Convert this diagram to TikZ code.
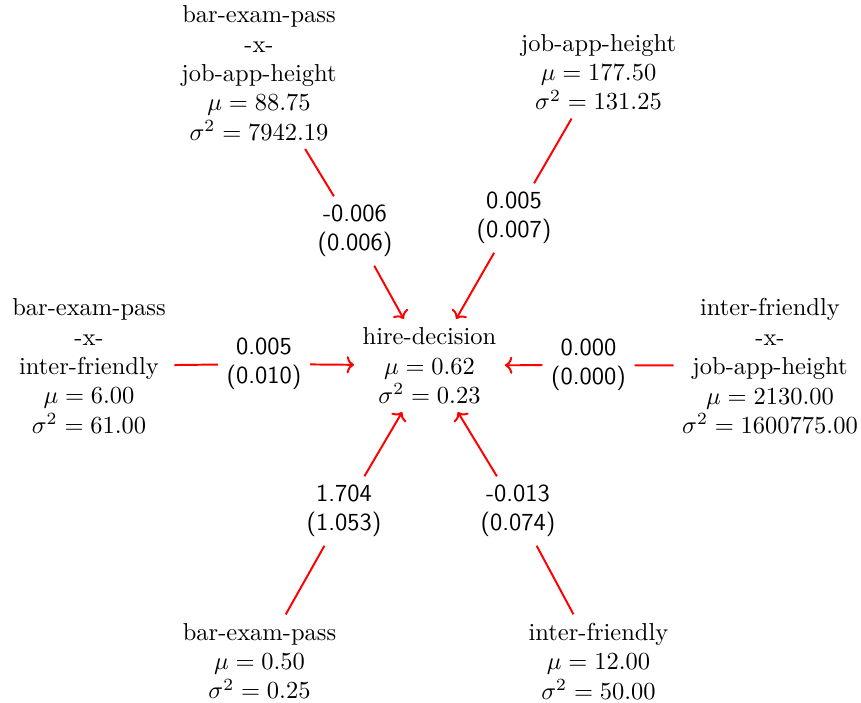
\documentclass[tikz,border=0pt]{standalone}
\usetikzlibrary{arrows.meta}
\begin{document}
\begin{tikzpicture}[x=0.40816pt,y=-0.40816pt,
  var/.style={align=center},
  coef/.style={font=\sffamily,align=center},
  link/.style={red,thick},
  linkarrow/.style={red,thick,-{To[length=3pt,width=7pt]}}]
\useasboundingbox (0,0) rectangle (861,702);
% variables
\node[var] (c)  at (429.5,365.5) {hire-decision\\$\mu=0.62$\\$\sigma^2=0.23$};
\node[var] (tl) at (259,73)  {bar-exam-pass\\-x-\\job-app-height\\$\mu=88.75$\\$\sigma^2=7942.19$};
\node[var] (tr) at (598.5,72)  {job-app-height\\$\mu=177.50$\\$\sigma^2=131.25$};
\node[var] (l)  at (89,366)  {bar-exam-pass\\-x-\\inter-friendly\\$\mu=6.00$\\$\sigma^2=61.00$};
\node[var] (r)  at (770,366) {inter-friendly\\-x-\\job-app-height\\$\mu=2130.00$\\$\sigma^2=1600775.00$};
\node[var] (bl) at (259.5,661) {bar-exam-pass\\$\mu=0.50$\\$\sigma^2=0.25$};
\node[var] (br) at (598.5,661) {inter-friendly\\$\mu=12.00$\\$\sigma^2=50.00$};
% coefficients (standard errors)
\node[coef] (ktl) at (355,231) {-0.006\\(0.006)};
\node[coef] (ktr) at (514,218) {0.005\\(0.007)};
\node[coef] (kl)  at (264,364) {0.005\\(0.010)};
\node[coef] (kr)  at (588.5,365) {0.000\\(0.000)};
\node[coef] (kbl) at (344,511) {1.704\\(1.053)};
\node[coef] (kbr) at (518,511) {-0.013\\(0.074)};
% effects
\draw[link] (tl) -- (ktl); \draw[linkarrow] (ktl) -- (c);
\draw[link] (tr) -- (ktr); \draw[linkarrow] (ktr) -- (c);
\draw[link] (l) -- (kl);   \draw[linkarrow] (kl) -- (c);
\draw[link] (r) -- (kr);   \draw[linkarrow] (kr) -- (c);
\draw[link] (bl) -- (kbl); \draw[linkarrow] (kbl) -- (c);
\draw[link] (br) -- (kbr); \draw[linkarrow] (kbr) -- (c);
\end{tikzpicture}
\end{document}
